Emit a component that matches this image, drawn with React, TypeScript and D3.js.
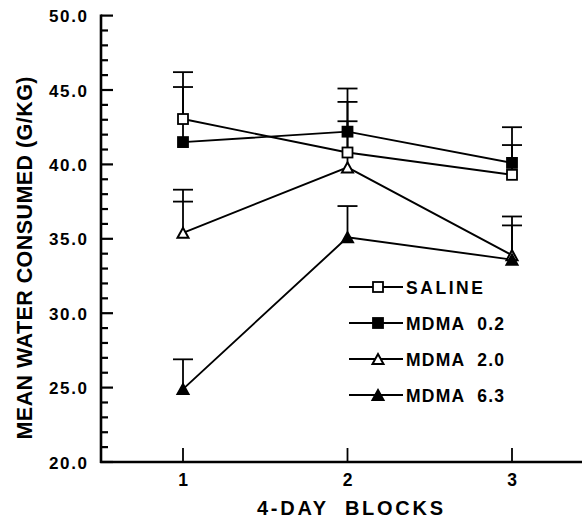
import React from "react";
import * as d3 from "d3";

const blocks = [1, 2, 3];
const xTickLabels = ["1", "2", "3"];
const yTicksMajor = [20, 25, 30, 35, 40, 45, 50];
const yTicksMinor = d3.range(20, 51, 1);

const seriesNames = ["SALINE", "MDMA  0.2", "MDMA  2.0", "MDMA  6.3"];
const salineMean = [43.05, 40.8, 39.3];
const salineCap = [46.2, 44.2, 41.3];
const mdma02Mean = [41.5, 42.2, 40.1];
const mdma02Cap = [45.2, 45.1, 42.5];
const mdma20Mean = [35.4, 39.8, 33.9];
const mdma20Cap = [38.3, 42.9, 36.5];
const mdma63Mean = [24.9, 35.1, 33.6];
const mdma63Cap = [26.9, 37.2, 35.9];
const extraCapBlocks = [1];
const extraCapValues = [37.5];

type Sym = "sqOpen" | "sqFill" | "triOpen" | "triFill";
const symbols: Sym[] = ["sqOpen", "sqFill", "triOpen", "triFill"];
const means = [salineMean, mdma02Mean, mdma20Mean, mdma63Mean];
const caps = [salineCap, mdma02Cap, mdma20Cap, mdma63Cap];

const W = 582;
const H = 518;
const FONT = "Arial, 'Liberation Sans', Helvetica, sans-serif";

const x = d3.scaleLinear().domain([1, 3]).range([183, 512]);
const y = d3.scaleLinear().domain([20, 50]).range([462, 15.6]);

function Marker({ cx, cy, sym }: { cx: number; cy: number; sym: Sym }) {
  if (sym === "sqOpen" || sym === "sqFill") {
    const s = 10;
    return (
      <rect
        x={cx - s / 2}
        y={cy - s / 2}
        width={s}
        height={s}
        fill={sym === "sqFill" ? "#000" : "#fff"}
        stroke="#000"
        strokeWidth={1.8}
      />
    );
  }
  const w = 11;
  const h = 10;
  const pts = `${cx - w / 2},${cy + h / 2} ${cx + w / 2},${cy + h / 2} ${cx},${cy - h / 2}`;
  return (
    <polygon
      points={pts}
      fill={sym === "triFill" ? "#000" : "#fff"}
      stroke="#000"
      strokeWidth={2}
      strokeLinejoin="miter"
    />
  );
}

export default function App() {
  const line = d3
    .line<number>()
    .x((_, i) => x(blocks[i]))
    .y((d) => y(d));

  const legendRows = [287, 323, 359, 395];

  return (
    <svg
      width={W}
      height={H}
      style={{ position: "absolute", left: 0, top: 0, background: "#fff" }}
      fontFamily={FONT}
      fontWeight="bold"
    >
      <rect x={0} y={0} width={W} height={H} fill="#fff" />
      {/* axes */}
      <line x1={101} x2={101} y1={y(50) - 1} y2={y(20) + 1} stroke="#000" strokeWidth={2.6} />
      <line x1={100} x2={582} y1={y(20)} y2={y(20)} stroke="#000" strokeWidth={2.4} />
      {yTicksMinor.map((v) => {
        const major = v % 5 === 0;
        return (
          <line
            key={"t" + v}
            x1={101}
            x2={major ? 113 : 108}
            y1={y(v)}
            y2={y(v)}
            stroke="#000"
            strokeWidth={2.2}
          />
        );
      })}
      {yTicksMajor.map((v) => (
        <text
          key={"l" + v}
          x={87}
          y={y(v) + 6.5}
          textAnchor="end"
          fontSize={17}
          textLength={38}
          lengthAdjust="spacing"
        >
          {v.toFixed(1)}
        </text>
      ))}
      {blocks.map((b, i) => (
        <g key={"xb" + b}>
          <line x1={x(b)} x2={x(b)} y1={y(20)} y2={y(20) - 14} stroke="#000" strokeWidth={1.8} />
          <text x={x(b)} y={486} textAnchor="middle" fontSize={17.5}>
            {xTickLabels[i]}
          </text>
        </g>
      ))}
      <text
        x={350}
        y={515}
        textAnchor="middle"
        fontSize={20}
        textLength={186}
        lengthAdjust="spacing"
        style={{ whiteSpace: "pre" }}
      >
        {"4-DAY  BLOCKS"}
      </text>
      <text
        transform={`translate(32,258) rotate(-90)`}
        textAnchor="middle"
        fontSize={21.5}
        textLength={363}
        lengthAdjust="spacing"
      >
        MEAN WATER CONSUMED (G/KG)
      </text>

      {/* error bars */}
      {means.map((m, si) =>
        m.map((v, i) => (
          <g key={`e${si}-${i}`}>
            <line x1={x(blocks[i])} x2={x(blocks[i])} y1={y(v)} y2={y(caps[si][i])} stroke="#000" strokeWidth={1.8} />
            <line
              x1={x(blocks[i]) - 10}
              x2={x(blocks[i]) + 10}
              y1={y(caps[si][i])}
              y2={y(caps[si][i])}
              stroke="#000"
              strokeWidth={1.8}
            />
          </g>
        ))
      )}
      {extraCapBlocks.map((b, i) => (
        <line
          key={"xc" + i}
          x1={x(b) - 10}
          x2={x(b) + 10}
          y1={y(extraCapValues[i])}
          y2={y(extraCapValues[i])}
          stroke="#000"
          strokeWidth={1.8}
        />
      ))}

      {/* lines */}
      {means.map((m, si) => (
        <path key={"p" + si} d={line(m) || ""} fill="none" stroke="#000" strokeWidth={1.9} />
      ))}
      {means.map((m, si) =>
        m.map((v, i) => <Marker key={`m${si}-${i}`} cx={x(blocks[i])} cy={y(v)} sym={symbols[si]} />)
      )}

      {/* legend */}
      {seriesNames.map((name, i) => (
        <g key={"lg" + i}>
          <line x1={349} x2={403} y1={legendRows[i]} y2={legendRows[i]} stroke="#000" strokeWidth={1.8} />
          <Marker cx={378} cy={legendRows[i]} sym={symbols[i]} />
          <text
            x={406}
            y={legendRows[i] + 6.5}
            fontSize={17.5}
            textLength={i === 0 ? 77 : 98}
            lengthAdjust="spacing"
            style={{ whiteSpace: "pre" }}
          >
            {name}
          </text>
        </g>
      ))}
    </svg>
  );
}
